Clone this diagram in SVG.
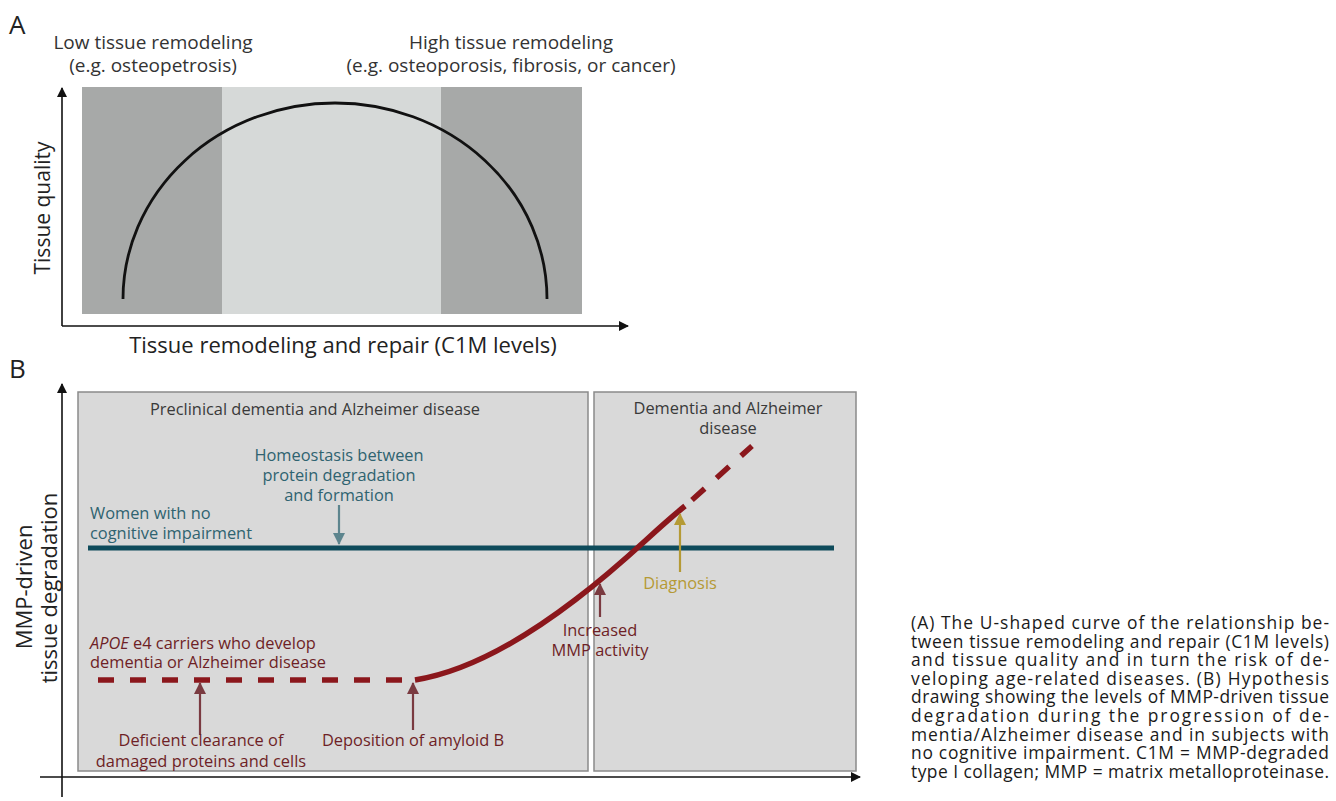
<svg xmlns="http://www.w3.org/2000/svg" width="1336" height="801" viewBox="0 0 1336 801">
<style>
text{font-family:"Open Sans","Noto Sans","Liberation Sans",sans-serif;}
.pl{font-size:26px;fill:#222;}
.ta{font-size:19px;fill:#333;text-anchor:middle;}
.ax{font-size:22px;fill:#222;text-anchor:middle;}
.hd{font-size:16.4px;fill:#3a3a3a;text-anchor:middle;}
.tl{font-size:16.4px;fill:#2f6370;}
.rd{font-size:16.4px;fill:#6e1f26;}
.gd{font-size:16.4px;fill:#b59a35;text-anchor:middle;}
.cap{font-size:17.4px;fill:#1a1a1a;}
.axis{stroke:#111;stroke-width:1.6;fill:none;}
.box{fill:#d9d9d9;stroke:#8a8a8a;stroke-width:1.5;}
</style>
<defs>
<marker id="ab" markerWidth="10" markerHeight="10" refX="9" refY="5" orient="auto" markerUnits="userSpaceOnUse"><path d="M0,0 L10,5 L0,10 z" fill="#111"/></marker>
<marker id="at" markerWidth="12" markerHeight="12" refX="11" refY="6" orient="auto" markerUnits="userSpaceOnUse"><path d="M0,0 L12,6 L0,12 z" fill="#5d858e"/></marker>
<marker id="ar" markerWidth="12" markerHeight="12" refX="11" refY="6" orient="auto" markerUnits="userSpaceOnUse"><path d="M0,0 L12,6 L0,12 z" fill="#7a3a40"/></marker>
<marker id="ag" markerWidth="12" markerHeight="12" refX="11" refY="6" orient="auto" markerUnits="userSpaceOnUse"><path d="M0,0 L12,6 L0,12 z" fill="#b59a35"/></marker>
</defs>

<!-- Panel A -->
<g id="panelA">
<text class="pl" x="9" y="34">A</text>
<g id="A-bg">
<rect x="82" y="87" width="140" height="227" fill="#a7a9a8"/>
<rect x="222" y="87" width="219" height="227" fill="#d6d9d8"/>
<rect x="441" y="87" width="141" height="227" fill="#a7a9a8"/>
</g>
<g id="A-low">
<text class="ta" x="153" y="49">Low tissue remodeling</text>
<text class="ta" x="153" y="72">(e.g. osteopetrosis)</text>
</g>
<g id="A-high">
<text class="ta" x="511" y="49">High tissue remodeling</text>
<text class="ta" x="511" y="72">(e.g. osteoporosis, fibrosis, or cancer)</text>
</g>
<g id="A-curve">
<path d="M123,299 A212,196 0 0 1 547,299" fill="none" stroke="#111" stroke-width="2.8"/>
</g>
<g id="A-axes">
<path class="axis" d="M62,326 V88" marker-end="url(#ab)"/>
<path class="axis" d="M62,326 H628" marker-end="url(#ab)"/>
<text class="ax" font-size="21" style="font-size:21px" transform="translate(50,208) rotate(-90)">Tissue quality</text>
<text class="ax" x="343" y="353">Tissue remodeling and repair (C1M levels)</text>
</g>
</g>

<!-- Panel B -->
<g id="panelB">
<text class="pl" x="9" y="378">B</text>
<g id="B-preclinical">
<rect class="box" x="78" y="392" width="510" height="379"/>
<text class="hd" x="315" y="415">Preclinical dementia and Alzheimer disease</text>
</g>
<g id="B-dementia">
<rect class="box" x="594" y="392" width="262" height="379"/>
<text class="hd" x="728" y="414">Dementia and Alzheimer</text>
<text class="hd" x="728" y="434">disease</text>
</g>
<g id="B-axes">
<path class="axis" d="M62,797 V384" marker-end="url(#ab)"/>
<path class="axis" d="M40,777 H860" marker-end="url(#ab)"/>
<text class="ax" transform="translate(32,587) rotate(-90)">MMP-driven</text>
<text class="ax" transform="translate(57,588) rotate(-90)">tissue degradation</text>
</g>

<g id="connectors">
<path d="M88,548 H834" stroke="#0e4b5b" stroke-width="5" fill="none"/>
<path d="M98,680 H402" stroke="#8b171c" stroke-width="5.5" stroke-dasharray="16 16" fill="none"/>
<path d="M415,680 C465,672 520,642 575,600 S650,534 685,506" stroke="#8b171c" stroke-width="5.5" fill="none"/>
<path d="M692,500 L752,446" stroke="#8b171c" stroke-width="5.5" stroke-dasharray="17 16" fill="none"/>
<path d="M339,505 V544" stroke="#5d858e" stroke-width="2.2" marker-end="url(#at)"/>
<path d="M200,735 V683" stroke="#7a3a40" stroke-width="2.2" marker-end="url(#ar)"/>
<path d="M413,730 V683" stroke="#7a3a40" stroke-width="2.2" marker-end="url(#ar)"/>
<path d="M600,617 V584" stroke="#7a3a40" stroke-width="2.2" marker-end="url(#ar)"/>
<path d="M680,572 V514" stroke="#b59a35" stroke-width="2.2" marker-end="url(#ag)"/>
</g>

<g id="B-homeostasis">
<text class="tl" text-anchor="middle" x="339" y="461">Homeostasis between</text>
<text class="tl" text-anchor="middle" x="339" y="481">protein degradation</text>
<text class="tl" text-anchor="middle" x="339" y="501">and formation</text>
</g>
<g id="B-women">
<text class="tl" x="90" y="519">Women with no</text>
<text class="tl" x="90" y="539">cognitive impairment</text>
</g>
<g id="B-apoe">
<text class="rd" x="90" y="649"><tspan font-style="italic">APOE</tspan> e4 carriers who develop</text>
<text class="rd" x="90" y="668">dementia or Alzheimer disease</text>
</g>
<g id="B-deficient">
<text class="rd" text-anchor="middle" x="201" y="746">Deficient clearance of</text>
<text class="rd" text-anchor="middle" x="201" y="767">damaged proteins and cells</text>
</g>
<g id="B-deposition">
<text class="rd" text-anchor="middle" x="413" y="746">Deposition of amyloid B</text>
</g>
<g id="B-increased">
<text class="rd" text-anchor="middle" x="600" y="636">Increased</text>
<text class="rd" text-anchor="middle" x="600" y="656">MMP activity</text>
</g>
<g id="B-diagnosis">
<text class="gd" x="680" y="589">Diagnosis</text>
</g>
</g>

<g id="caption">
<text class="cap" x="911" y="629" textLength="418" lengthAdjust="spacing">(A) The U-shaped curve of the relationship be-</text>
<text class="cap" x="911" y="647.6" textLength="418" lengthAdjust="spacing">tween tissue remodeling and repair (C1M levels)</text>
<text class="cap" x="911" y="666.2" textLength="418" lengthAdjust="spacing">and tissue quality and in turn the risk of de-</text>
<text class="cap" x="911" y="684.8" textLength="418" lengthAdjust="spacing">veloping age-related diseases. (B) Hypothesis</text>
<text class="cap" x="911" y="703.4" textLength="418" lengthAdjust="spacing">drawing showing the levels of MMP-driven tissue</text>
<text class="cap" x="911" y="722" textLength="418" lengthAdjust="spacing">degradation during the progression of de-</text>
<text class="cap" x="911" y="740.6" textLength="418" lengthAdjust="spacing">mentia/Alzheimer disease and in subjects with</text>
<text class="cap" x="911" y="759.2" textLength="418" lengthAdjust="spacing">no cognitive impairment. C1M = MMP-degraded</text>
<text class="cap" x="911" y="777.8" textLength="418" lengthAdjust="spacing">type I collagen; MMP = matrix metalloproteinase.</text>
</g>
</svg>
